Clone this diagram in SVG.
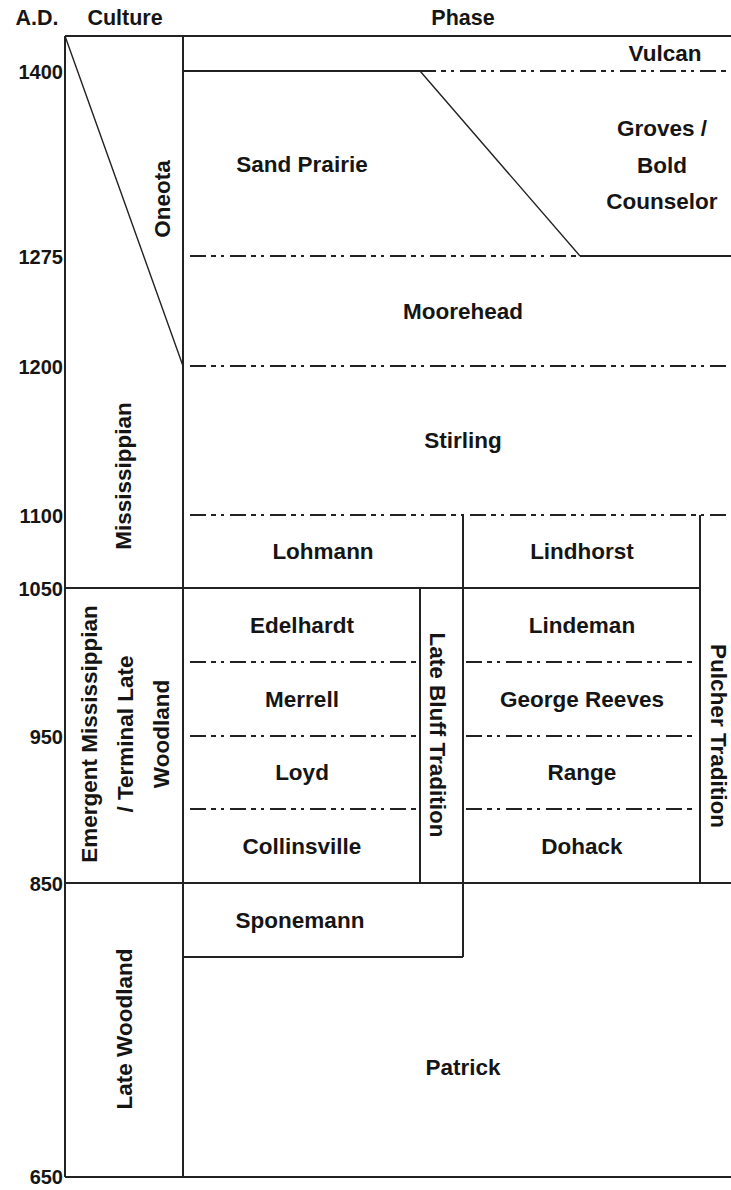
<svg xmlns="http://www.w3.org/2000/svg" width="731" height="1190" viewBox="0 0 731 1190">
<style>
text{font-family:"Liberation Sans",Arial,sans-serif;font-weight:bold;fill:#151515;text-anchor:middle;dominant-baseline:central}
.lbl{font-size:22.5px}
.yr{font-size:20px;text-anchor:end}
.hd{font-size:21.5px}
.s{stroke:#222;stroke-width:2;fill:none}
.d{stroke:#222;stroke-width:2;fill:none;stroke-dasharray:16 5 5 5 3 6}
.t{stroke:#222;stroke-width:1.4;fill:none}
</style>
<rect width="731" height="1190" fill="#fff"/>
<g id="headers">
<text class="hd" x="37" y="18">A.D.</text>
<text class="hd" x="125" y="18">Culture</text>
<text class="hd" x="463" y="18">Phase</text>
</g>
<g id="years">
<text class="yr" x="63" y="72">1400</text>
<text class="yr" x="63" y="257">1275</text>
<text class="yr" x="63" y="367">1200</text>
<text class="yr" x="63" y="516">1100</text>
<text class="yr" x="63" y="589">1050</text>
<text class="yr" x="63" y="737">950</text>
<text class="yr" x="63" y="884">850</text>
<text class="yr" x="63" y="1177">650</text>
</g>
<g id="connectors">
<path class="s" d="M65 36H731M65 36V1177M183 36V1177M65 1177H731"/>
<path class="s" d="M183 71H420"/>
<path class="d" d="M420 71H726"/>
<path class="t" d="M420 71L580 256M65 36L183 366"/>
<path class="d" d="M190 256H580"/>
<path class="s" d="M580 256H731"/>
<path class="d" d="M190 366H731"/>
<path class="d" d="M190 515H731"/>
<path class="s" d="M463 515V957M700 515V883M65 588H700M420 588V883M65 883H731M183 957H463"/>
<path class="d" d="M190 662H418M466 662H697M190 736H418M466 736H697M190 809H418M466 809H697"/>
</g>
<g id="culture-oneota"><text class="lbl" transform="translate(162 199) rotate(-90)">Oneota</text></g>
<g id="culture-mississippian"><text class="lbl" transform="translate(123 476) rotate(-90)">Mississippian</text></g>
<g id="culture-emergent">
<text class="lbl" transform="translate(89 734) rotate(-90)">Emergent Mississippian</text>
<text class="lbl" transform="translate(125 734) rotate(-90)">/ Terminal Late</text>
<text class="lbl" transform="translate(161 734) rotate(-90)">Woodland</text>
</g>
<g id="culture-late-woodland"><text class="lbl" transform="translate(124 1029) rotate(-90)">Late Woodland</text></g>
<g id="phase-vulcan"><text class="lbl" x="665" y="53">Vulcan</text></g>
<g id="phase-sand-prairie"><text class="lbl" x="302" y="164">Sand Prairie</text></g>
<g id="phase-groves"><text class="lbl" x="662" y="128">Groves /</text><text class="lbl" x="662" y="165">Bold</text><text class="lbl" x="662" y="201">Counselor</text></g>
<g id="phase-moorehead"><text class="lbl" x="463" y="311">Moorehead</text></g>
<g id="phase-stirling"><text class="lbl" x="463" y="440">Stirling</text></g>
<g id="phase-lohmann"><text class="lbl" x="323" y="551">Lohmann</text></g>
<g id="phase-lindhorst"><text class="lbl" x="582" y="551">Lindhorst</text></g>
<g id="phase-edelhardt"><text class="lbl" x="302" y="625">Edelhardt</text></g>
<g id="phase-lindeman"><text class="lbl" x="582" y="625">Lindeman</text></g>
<g id="phase-merrell"><text class="lbl" x="302" y="699">Merrell</text></g>
<g id="phase-george-reeves"><text class="lbl" x="582" y="699">George Reeves</text></g>
<g id="phase-loyd"><text class="lbl" x="302" y="772">Loyd</text></g>
<g id="phase-range"><text class="lbl" x="582" y="772">Range</text></g>
<g id="phase-collinsville"><text class="lbl" x="302" y="846">Collinsville</text></g>
<g id="phase-dohack"><text class="lbl" x="582" y="846">Dohack</text></g>
<g id="late-bluff"><text class="lbl" transform="translate(437 735) rotate(90)">Late Bluff Tradition</text></g>
<g id="pulcher"><text class="lbl" transform="translate(718 736) rotate(90)">Pulcher Tradition</text></g>
<g id="phase-sponemann"><text class="lbl" x="300" y="920">Sponemann</text></g>
<g id="phase-patrick"><text class="lbl" x="463" y="1067">Patrick</text></g>
</svg>
